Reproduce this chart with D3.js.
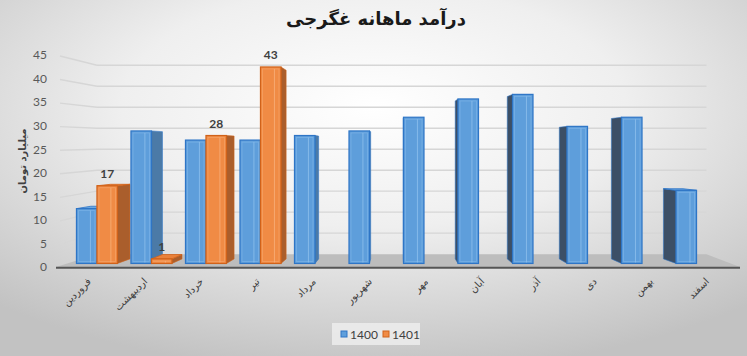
<!DOCTYPE html>
<html><head><meta charset="utf-8">
<script src="https://cdn.jsdelivr.net/npm/d3@7"></script>
<style>body{margin:0;background:#fff;} svg{display:block;}</style>
</head><body>
<svg id="chart" width="747" height="356"></svg>
<script>
// ---- data ----
const categories = ["فروردین","اردیبهشت","خرداد","تیر","مرداد","شهریور","مهر","آبان","آذر","دی","بهمن","اسفند"];
const values1400 = [12,29,27,27,28,29,32,36,37,30,32,16];
const values1401 = [17,1,28,43,null,null,null,null,null,null,null,null];
const seriesNames = ["1400","1401"];
const yTicks = [0,5,10,15,20,25,30,35,40,45];
const chartTitle = "درآمد ماهانه غگرجی";
const yAxisTitle = "میلیارد تومان";

// ---- setup ----
const svg = d3.select("#chart");
const W = 747, H = 356;
const persian = "'DejaVu Sans', sans-serif";
const latin = "Lato, 'Open Sans', sans-serif";

const defs = svg.append("defs");
const bg = defs.append("radialGradient").attr("id","bg").attr("cx","50%").attr("cy","30%").attr("r","75%");
bg.append("stop").attr("offset","0%").attr("stop-color","#ffffff");
bg.append("stop").attr("offset","45%").attr("stop-color","#efefef");
bg.append("stop").attr("offset","100%").attr("stop-color","#c2c2c2");
svg.append("rect").attr("width",W).attr("height",H).attr("fill","url(#bg)");

// scales (front plane)
const x = d3.scaleBand().domain(categories).range([58.5, 732.8]).padding(0);
const y = d3.scaleLinear().domain([0,45]).range([267,55]);

// perspective
const VP = [432,149];
const sZ = z => 1 - 0.109*z;
function proj(px, py, z){ const s = sZ(z); return [VP[0] + (px-VP[0])*s, VP[1] + (py-VP[1])*s]; }
const ZF = 0.275;
const BVX = 396, BK = 0.045, BKY = 0.04;
const back = p => [p[0] + (BVX - p[0])*BK, p[1] + (VP[1]-p[1])*BKY];

// floor
const fx0 = 56, fx1 = 740, fy = y(0);
const floorPts = [proj(fx0,fy,0), proj(fx1,fy,0), proj(fx1,fy,1), proj(fx0,fy,1)];
svg.append("polygon").attr("points", floorPts.map(p=>p.join(",")).join(" ")).attr("fill","#bdbdbd");

// gridlines: back wall and left wall
const grid = svg.append("g").attr("stroke","#d6d6d6").attr("stroke-width",1.4).attr("fill","none");
yTicks.filter(t=>t>0).forEach(t=>{
  const a = proj(fx0, y(t), 1), b = proj(fx1, y(t), 1), c = proj(fx0, y(t), 0);
  grid.append("line").attr("x1",a[0]).attr("y1",a[1]).attr("x2",b[0]).attr("y2",b[1]);
  grid.append("line").attr("x1",c[0]+4).attr("y1",c[1]+1).attr("x2",a[0]).attr("y2",a[1]);
});

// floor front edge
svg.append("line").attr("x1",fx0).attr("x2",fx1).attr("y1",fy+0.8).attr("y2",fy+0.8)
  .attr("stroke","#555").attr("stroke-width",2);

// bars
const bw = x.bandwidth()*0.376;
const styles = {
  "1400": {front:"#5e9edb", stroke:"#2e75c6", inner:"#8ec0ee", sideR:"#4b7aa7", sideL:"#3c4f66", top:"#6aa8e2"},
  "1401": {front:"#f08b45", stroke:"#d0621a", inner:"#f7b07c", sideR:"#aa5e2c", sideL:"#8a4a20", top:"#e9813a"}
};
const bars = [];
categories.forEach((c,i)=>{
  const cx = x(c) + x.bandwidth()/2;
  [[values1400[i],"1400",cx-bw,cx],[values1401[i],"1401",cx,cx+bw]].forEach(([v,s,x0,x1])=>{
    if(v==null) return;
    bars.push({cat:c, v, s, x0, x1});
  });
});
bars.forEach(b=>{
  b.tl = proj(b.x0, y(b.v), ZF); b.tr = proj(b.x1, y(b.v), ZF);
  b.bl = proj(b.x0, y(0), ZF);  b.br = proj(b.x1, y(0), ZF);
  b.mid = (b.tl[0]+b.tr[0])/2;
});
bars.sort((a,b)=>Math.abs(b.mid-BVX)-Math.abs(a.mid-BVX));

const gBars = svg.append("g");
const poly = pts => pts.map(p=>p[0].toFixed(2)+","+p[1].toFixed(2)).join(" ");
bars.forEach(b=>{
  const st = styles[b.s];
  const g = gBars.append("g");
  if (b.tr[0] < BVX) {
    g.append("polygon").attr("points", poly([b.tr, back(b.tr), back(b.br), b.br]))
      .attr("fill", st.sideR).attr("stroke", st.stroke).attr("stroke-width",0.8).attr("stroke-opacity",0.7);
  } else if (b.tl[0] > BVX) {
    g.append("polygon").attr("points", poly([b.tl, back(b.tl), back(b.bl), b.bl]))
      .attr("fill", st.sideL).attr("stroke", st.stroke).attr("stroke-width",0.8).attr("stroke-opacity",0.7);
  }
  if (b.tl[1] > VP[1]) {
    g.append("polygon").attr("points", poly([b.tl, b.tr, back(b.tr), back(b.tl)]))
      .attr("fill", st.top).attr("stroke", st.stroke).attr("stroke-width",0.8);
  }
  g.append("rect").attr("x", b.tl[0]).attr("y", b.tl[1])
    .attr("width", b.tr[0]-b.tl[0]).attr("height", b.bl[1]-b.tl[1])
    .attr("fill", st.front).attr("stroke", st.stroke).attr("stroke-width",1.2);
  const ix = b.tl[0] + (b.tr[0]-b.tl[0])*0.68;
  g.append("line").attr("x1",ix).attr("x2",ix).attr("y1",b.tl[1]+2).attr("y2",b.bl[1]-1)
    .attr("stroke", st.inner).attr("stroke-width",1).attr("stroke-opacity",0.8);
  g.append("rect").attr("x", b.tl[0]+2).attr("y", b.tl[1]+2)
    .attr("width", Math.max(0,b.tr[0]-b.tl[0]-4)).attr("height", Math.max(0,b.bl[1]-b.tl[1]-4))
    .attr("fill","none").attr("stroke", st.inner).attr("stroke-width",0.8).attr("stroke-opacity",0.55);
});

// data labels (1401)
bars.filter(b=>b.s==="1401").forEach(b=>{
  svg.append("text").attr("x", b.mid).attr("y", b.tl[1]-12.5)
    .attr("text-anchor","middle").attr("dominant-baseline","central")
    .attr("font-family", latin).attr("font-weight","bold").attr("font-size",12)
    .attr("fill","#404040").text(b.v);
});

// y axis
const yAxis = d3.axisLeft(y).tickValues(yTicks).tickSize(0).tickPadding(0);
const gy = svg.append("g").attr("transform","translate(47,0)").call(yAxis);
gy.select(".domain").remove();
gy.selectAll("text").attr("font-family", latin).attr("font-size",12).attr("fill","#595959");

// x category labels
categories.forEach(c=>{
  const cx = x(c) + x.bandwidth()/2;
  svg.append("text").attr("transform",`translate(${cx+3},${280}) rotate(-45)`)
    .attr("text-anchor","end").attr("dominant-baseline","middle")
    .attr("font-family", persian).attr("font-size",10).attr("fill","#404040")
    .text(c);
});

// titles
svg.append("text").attr("x",376).attr("y",25).attr("text-anchor","middle")
  .attr("font-family", persian).attr("font-weight","bold").attr("font-size",18)
  .attr("fill","#1a1a1a").text(chartTitle);
svg.append("text").attr("transform","translate(22,161) rotate(-90)")
  .attr("text-anchor","middle").attr("dominant-baseline","central")
  .attr("font-family", persian).attr("font-weight","bold").attr("font-size",10)
  .attr("fill","#404040").text(yAxisTitle);

// legend
const lg = svg.append("g");
lg.append("rect").attr("x",332).attr("y",323).attr("width",88).attr("height",22)
  .attr("fill","#f4f4f4").attr("opacity",0.7);
const legendX = [341, 383];
seriesNames.forEach((s,i)=>{
  lg.append("rect").attr("x",legendX[i]).attr("y",331).attr("width",6).attr("height",6)
    .attr("fill", styles[s].front).attr("stroke", styles[s].stroke).attr("stroke-width",1);
  lg.append("text").attr("x",legendX[i]+9).attr("y",338.5)
    .attr("font-family", latin).attr("font-size",12).attr("fill","#404040").text(s);
});
</script>
</body></html>
